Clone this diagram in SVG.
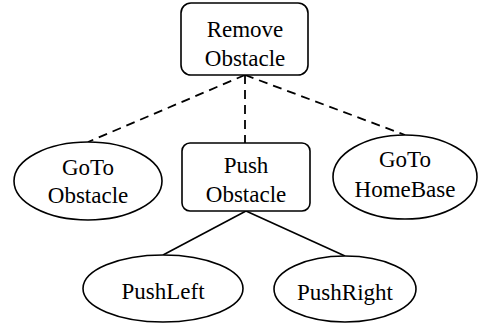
<svg xmlns="http://www.w3.org/2000/svg" width="478" height="329" viewBox="0 0 478 329">
<style>
.n{fill:#fff;stroke:#000;stroke-width:1.6}
.d{stroke:#000;stroke-width:1.8;stroke-dasharray:9,6;fill:none}
.s{stroke:#000;stroke-width:1.6;fill:none}
</style>
<rect width="478" height="329" fill="#fff"/>
<g id="connectors">
<line class="d" x1="245" y1="75" x2="88" y2="142"/>
<line class="d" x1="245" y1="75" x2="245" y2="143"/>
<line class="d" x1="245" y1="75" x2="405" y2="135"/>
<line class="s" x1="246" y1="211" x2="163" y2="255"/>
<line class="s" x1="246" y1="211" x2="345" y2="256"/>
</g>
<g id="remove-obstacle">
<rect class="n" x="181" y="3" width="127" height="72" rx="10"/>
<text x="245" y="37" font-family="Liberation Serif" font-size="23" text-anchor="middle">Remove</text>
<text x="245" y="66" font-family="Liberation Serif" font-size="23" text-anchor="middle">Obstacle</text>
</g>
<g id="goto-obstacle">
<ellipse class="n" cx="88" cy="181" rx="74" ry="39"/>
<text x="88" y="175" font-family="Liberation Serif" font-size="23" text-anchor="middle">GoTo</text>
<text x="88" y="203" font-family="Liberation Serif" font-size="23" text-anchor="middle">Obstacle</text>
</g>
<g id="push-obstacle">
<rect class="n" x="182" y="143" width="128" height="68" rx="8"/>
<text x="246" y="173" font-family="Liberation Serif" font-size="23" text-anchor="middle">Push</text>
<text x="246" y="202" font-family="Liberation Serif" font-size="23" text-anchor="middle">Obstacle</text>
</g>
<g id="goto-homebase">
<ellipse class="n" cx="405" cy="177" rx="72" ry="42"/>
<text x="405" y="167" font-family="Liberation Serif" font-size="23" text-anchor="middle">GoTo</text>
<text x="405" y="197" font-family="Liberation Serif" font-size="23" text-anchor="middle">HomeBase</text>
</g>
<g id="push-left">
<ellipse class="n" cx="163" cy="288.5" rx="80" ry="33.5"/>
<text x="163" y="299" font-family="Liberation Serif" font-size="23" text-anchor="middle">PushLeft</text>
</g>
<g id="push-right">
<ellipse class="n" cx="345" cy="289" rx="71" ry="33"/>
<text x="345" y="300" font-family="Liberation Serif" font-size="23" text-anchor="middle">PushRight</text>
</g>
</svg>
